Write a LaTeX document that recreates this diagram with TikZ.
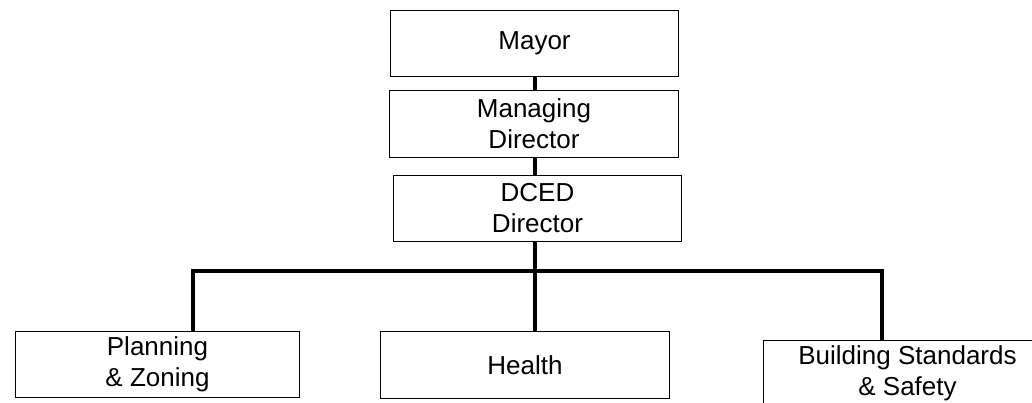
\documentclass[tikz,border=0pt]{standalone}
\usepackage{fontspec}
\setmainfont{Liberation Sans}
\usetikzlibrary{calc}

\tikzset{
	office/.style={draw, line width=0.9pt, rectangle, inner sep=0pt, minimum width=216.5pt, minimum height=50pt, align=center, font=\fontsize{19.5}{23.3}\selectfont},
	branch/.style={line width=3pt, line join=miter}
}

\begin{document}
\begin{tikzpicture}[x=0.75pt,y=-0.75pt]
		\useasboundingbox (0,0) rectangle (1032,403);
		\clip (0,0) rectangle (1032,403);
		\node[office] (mayor) at (534.5,43.5) {Mayor};
		\node[office] (md) at (534,124) {Managing\\Director};
		\node[office, minimum height=49pt] (dced) at (537.5,208.5) {DCED\\Director};
		\node[office, minimum width=213.5pt] (pz) at (157.5,364.5) {Planning\\\& Zoning};
		\node[office] (health) at (525,365) {Health};
		\node[office] (bss) at (907.5,373.5) {Building Standards\\\& Safety};
		\coordinate (lp) at (193,271);
		\coordinate (rp) at (882,271);
		\draw[branch] (mayor.south -| 535,0) -- (md.north -| 535,0);
		\draw[branch] (md.south -| 535,0) -- (dced.north -| 535,0);
		\draw[branch] (dced.south -| 535,0) -- (health.north -| 535,0);
		\draw[branch] (pz.north -| lp) -- (lp) -- (rp) -- (bss.north -| rp);
	\end{tikzpicture}
\end{document}
